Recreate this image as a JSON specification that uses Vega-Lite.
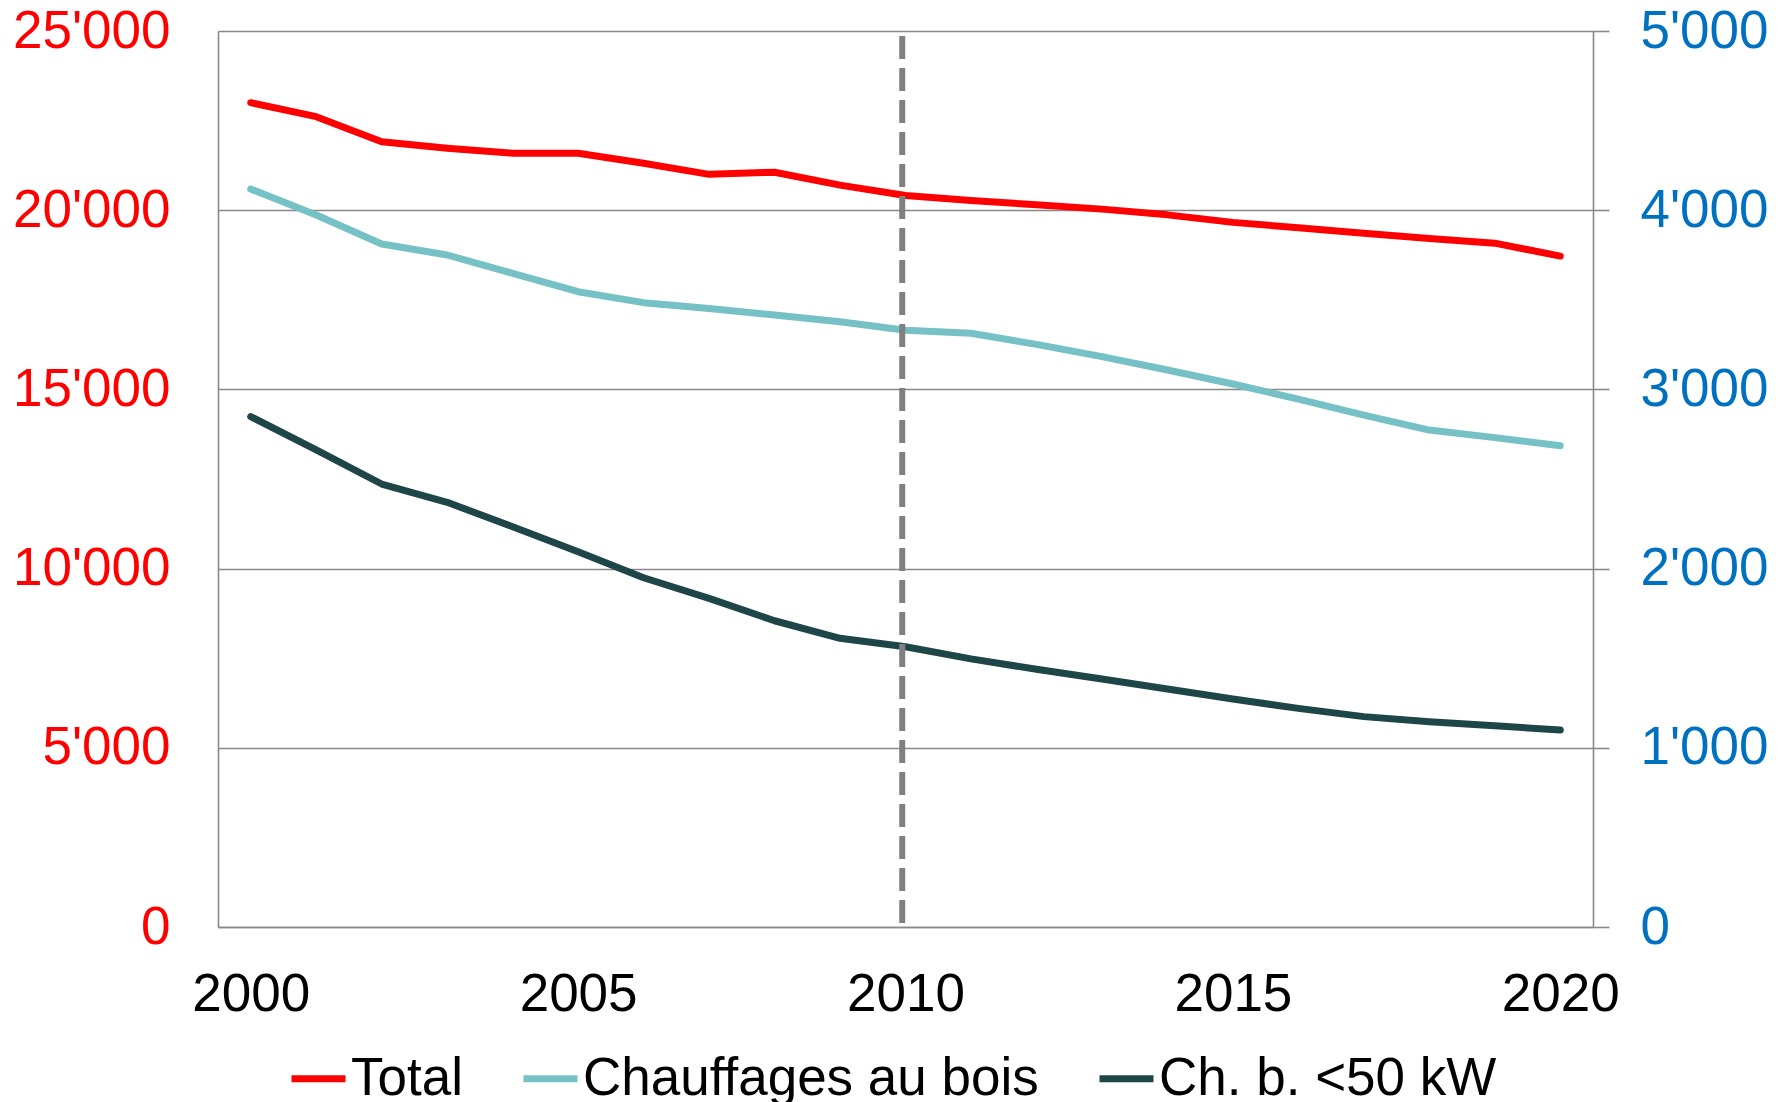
{
  "$schema": "https://vega.github.io/schema/vega-lite/v6.json",
  "width": 1375,
  "height": 896,
  "autosize": {"type": "none"},
  "padding": {"left": 218, "top": 31, "right": 194, "bottom": 175},
  "background": "white",
  "config": {
    "view": {"stroke": null},
    "font": "Liberation Sans",
    "axis": {"labelFont": "Liberation Sans", "labelFontSize": 53, "title": null, "domainColor": "#898989", "domainWidth": 1.6, "tickColor": "#898989", "tickWidth": 1.6, "gridColor": "#898989", "gridWidth": 1.6, "gridOpacity": 1}
  },
  "datasets": {
    "series": [
      {"year": 2000, "serie": "Total", "value": 23000},
      {"year": 2001, "serie": "Total", "value": 22610},
      {"year": 2002, "serie": "Total", "value": 21910},
      {"year": 2003, "serie": "Total", "value": 21730},
      {"year": 2004, "serie": "Total", "value": 21590},
      {"year": 2005, "serie": "Total", "value": 21590},
      {"year": 2006, "serie": "Total", "value": 21310},
      {"year": 2007, "serie": "Total", "value": 21000},
      {"year": 2008, "serie": "Total", "value": 21060},
      {"year": 2009, "serie": "Total", "value": 20700},
      {"year": 2010, "serie": "Total", "value": 20410},
      {"year": 2011, "serie": "Total", "value": 20270},
      {"year": 2012, "serie": "Total", "value": 20150},
      {"year": 2013, "serie": "Total", "value": 20030},
      {"year": 2014, "serie": "Total", "value": 19870},
      {"year": 2015, "serie": "Total", "value": 19660},
      {"year": 2016, "serie": "Total", "value": 19510},
      {"year": 2017, "serie": "Total", "value": 19360},
      {"year": 2018, "serie": "Total", "value": 19210},
      {"year": 2019, "serie": "Total", "value": 19080},
      {"year": 2020, "serie": "Total", "value": 18720},
      {"year": 2000, "serie": "Chauffages au bois", "value": 4118},
      {"year": 2001, "serie": "Chauffages au bois", "value": 3973},
      {"year": 2002, "serie": "Chauffages au bois", "value": 3811},
      {"year": 2003, "serie": "Chauffages au bois", "value": 3750},
      {"year": 2004, "serie": "Chauffages au bois", "value": 3648},
      {"year": 2005, "serie": "Chauffages au bois", "value": 3545},
      {"year": 2006, "serie": "Chauffages au bois", "value": 3484},
      {"year": 2007, "serie": "Chauffages au bois", "value": 3452},
      {"year": 2008, "serie": "Chauffages au bois", "value": 3415},
      {"year": 2009, "serie": "Chauffages au bois", "value": 3378},
      {"year": 2010, "serie": "Chauffages au bois", "value": 3330},
      {"year": 2011, "serie": "Chauffages au bois", "value": 3313},
      {"year": 2012, "serie": "Chauffages au bois", "value": 3251},
      {"year": 2013, "serie": "Chauffages au bois", "value": 3183},
      {"year": 2014, "serie": "Chauffages au bois", "value": 3108},
      {"year": 2015, "serie": "Chauffages au bois", "value": 3030},
      {"year": 2016, "serie": "Chauffages au bois", "value": 2946},
      {"year": 2017, "serie": "Chauffages au bois", "value": 2857},
      {"year": 2018, "serie": "Chauffages au bois", "value": 2773},
      {"year": 2019, "serie": "Chauffages au bois", "value": 2731},
      {"year": 2020, "serie": "Chauffages au bois", "value": 2686},
      {"year": 2000, "serie": "Ch. b. <50 kW", "value": 2848},
      {"year": 2001, "serie": "Ch. b. <50 kW", "value": 2662},
      {"year": 2002, "serie": "Ch. b. <50 kW", "value": 2472},
      {"year": 2003, "serie": "Ch. b. <50 kW", "value": 2370},
      {"year": 2004, "serie": "Ch. b. <50 kW", "value": 2234},
      {"year": 2005, "serie": "Ch. b. <50 kW", "value": 2094},
      {"year": 2006, "serie": "Ch. b. <50 kW", "value": 1949},
      {"year": 2007, "serie": "Ch. b. <50 kW", "value": 1834},
      {"year": 2008, "serie": "Ch. b. <50 kW", "value": 1709},
      {"year": 2009, "serie": "Ch. b. <50 kW", "value": 1611},
      {"year": 2010, "serie": "Ch. b. <50 kW", "value": 1564},
      {"year": 2011, "serie": "Ch. b. <50 kW", "value": 1496},
      {"year": 2012, "serie": "Ch. b. <50 kW", "value": 1438},
      {"year": 2013, "serie": "Ch. b. <50 kW", "value": 1384},
      {"year": 2014, "serie": "Ch. b. <50 kW", "value": 1328},
      {"year": 2015, "serie": "Ch. b. <50 kW", "value": 1272},
      {"year": 2016, "serie": "Ch. b. <50 kW", "value": 1220},
      {"year": 2017, "serie": "Ch. b. <50 kW", "value": 1174},
      {"year": 2018, "serie": "Ch. b. <50 kW", "value": 1146},
      {"year": 2019, "serie": "Ch. b. <50 kW", "value": 1123},
      {"year": 2020, "serie": "Ch. b. <50 kW", "value": 1099}
    ],
    "marker": [{"year": 2009.95}]
  },
  "layer": [
    {
      "data": {"name": "series"},
      "transform": [{"filter": "datum.serie === 'Total'"}],
      "mark": {"type": "line", "strokeWidth": 7, "strokeCap": "round", "strokeJoin": "round"},
      "encoding": {
        "x": {
          "field": "year", "type": "quantitative",
          "scale": {"domain": [1999.5, 2020.5], "nice": false, "zero": false},
          "axis": {"values": [2000, 2005, 2010, 2015, 2020], "format": "d", "ticks": false, "tickSize": 0, "grid": false, "labelPadding": 41, "labelColor": "black", "labelFlush": false}
        },
        "y": {
          "field": "value", "type": "quantitative",
          "scale": {"domain": [0, 25000], "nice": false},
          "axis": {"orient": "left", "values": [0, 5000, 10000, 15000, 20000, 25000], "grid": true, "ticks": false, "tickSize": 0, "labelPadding": 48, "labelColor": "#FF0000", "labelExpr": "replace(format(datum.value, ','), ',', \"'\")", "labelFlush": false}
        },
        "color": {
          "field": "serie", "type": "nominal",
          "scale": {"domain": ["Total", "Chauffages au bois", "Ch. b. <50 kW"], "range": ["#FF0000", "#75C1C5", "#1E4648"]},
          "legend": {"orient": "none", "legendX": 70, "legendY": 1017, "direction": "horizontal", "title": null, "symbolType": "stroke", "symbolSize": 2916, "symbolStrokeWidth": 7, "labelFontSize": 53, "labelFont": "Liberation Sans", "labelColor": "black", "labelOffset": 2, "columnPadding": 46, "padding": 0, "labelLimit": 0}
        }
      }
    },
    {
      "layer": [
        {
          "data": {"name": "series"},
          "transform": [{"filter": "datum.serie !== 'Total'"}],
          "mark": {"type": "line", "strokeWidth": 7, "strokeCap": "round", "strokeJoin": "round"},
          "encoding": {
            "x": {"field": "year", "type": "quantitative"},
            "y": {
              "field": "value", "type": "quantitative",
              "scale": {"domain": [0, 5000], "nice": false},
              "axis": {"orient": "right", "values": [0, 1000, 2000, 3000, 4000, 5000], "grid": false, "ticks": true, "tickSize": 16, "labelPadding": 31, "labelColor": "#0070C0", "labelExpr": "replace(format(datum.value, ','), ',', \"'\")", "labelFlush": false}
            },
            "color": {"field": "serie", "type": "nominal"}
          }
        },
        {
          "data": {"name": "marker"},
          "mark": {"type": "rule", "color": "#808080", "strokeWidth": 6, "strokeDash": [23, 9], "strokeDashOffset": 28},
          "encoding": {
            "x": {"field": "year", "type": "quantitative"},
            "y": {"datum": 0, "type": "quantitative"},
            "y2": {"datum": 5000}
          }
        }
      ]
    }
  ],
  "resolve": {"scale": {"y": "independent"}, "axis": {"y": "independent"}}
}
